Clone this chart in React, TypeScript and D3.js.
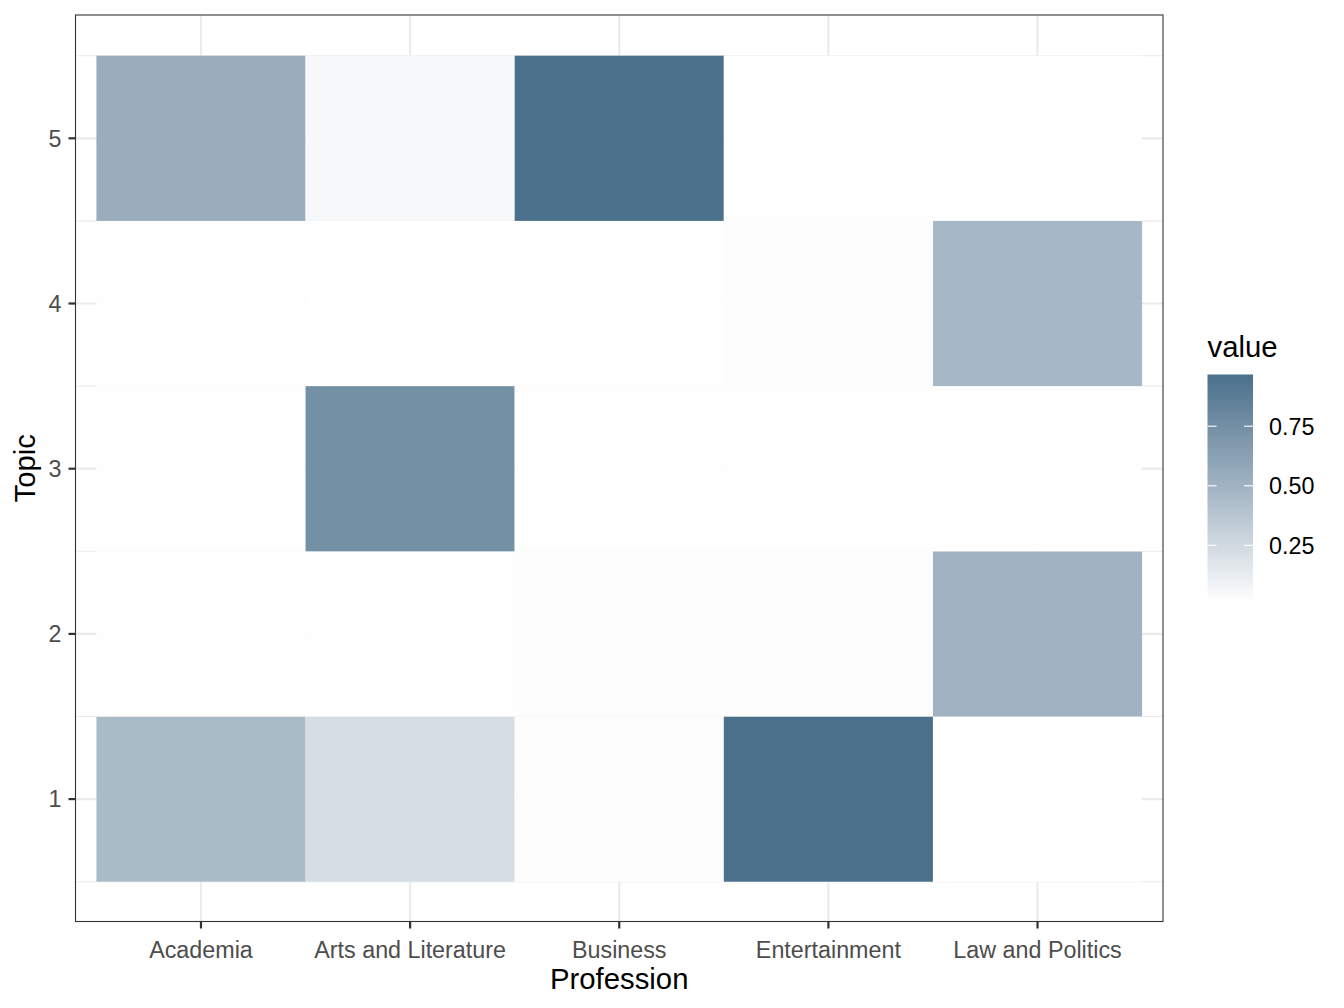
import React from "react";
import * as d3 from "d3";

const professions = ["Academia", "Arts and Literature", "Business", "Entertainment", "Law and Politics"];
const topics = [1, 2, 3, 4, 5];
// values per profession, indexed by topic 1..5
const academia = [0.45, 0.015, 0.012, 0.014, 0.54];
const artsLit = [0.22, 0.015, 0.74, 0.008, 0.05];
const business = [0.02, 0.02, 0.015, 0.015, 0.967];
const entertainment = [0.967, 0.02, 0.015, 0.02, 0.015];
const lawPolitics = [0.01, 0.5, 0.009, 0.47, 0.015];
const seriesValues = [academia, artsLit, business, entertainment, lawPolitics];
const legendTicks = [0.25, 0.5, 0.75];
const legendTickLabels = ["0.25", "0.50", "0.75"];

const W = 1344, H = 1008;
const panel = { left: 75.5, top: 15, right: 1163, bottom: 921.5 };
const FONT = "'Liberation Sans', Arial, sans-serif";
const TICK_FS = 23.3;
const TITLE_FS = 29.3;

export default function App() {
  const x = d3.scaleLinear().domain([0.4, 5.6]).range([panel.left, panel.right]);
  const y = d3.scaleLinear().domain([0.5, 5.5]).range([881.7, 55.7]);
  const all = seriesValues.flat();
  const vmin = d3.min(all)!, vmax = d3.max(all)!;
  const interp = d3.interpolateLab("#FFFFFF", "#4A708B");
  const color = (v: number) => interp((v - vmin) / (vmax - vmin));

  const cells: { i: number; t: number; v: number }[] = [];
  seriesValues.forEach((arr, i) => arr.forEach((v, j) => cells.push({ i, t: topics[j], v })));

  const lg = { x: 1207.5, w: 45.5, top: 374.5, bottom: 603 };
  const ly = d3.scaleLinear().domain([vmin, vmax]).range([lg.bottom, lg.top]);
  const stops = d3.range(0, 21).map((k) => k / 20);

  const minorY = [0.5, 1.5, 2.5, 3.5, 4.5, 5.5];

  return (
    <svg width={W} height={H} style={{ display: "block", margin: "-8px" }}>
      <rect width={W} height={H} fill="#fff" />
      <defs>
        <linearGradient id="lg" x1="0" y1="1" x2="0" y2="0">
          {stops.map((s) => (
            <stop key={s} offset={s} stopColor={interp(s)} />
          ))}
        </linearGradient>
        <clipPath id="pc">
          <rect x={panel.left} y={panel.top} width={panel.right - panel.left} height={panel.bottom - panel.top} />
        </clipPath>
      </defs>
      <g clipPath="url(#pc)">
        {minorY.map((t) => (
          <line key={"my" + t} x1={panel.left} x2={panel.right} y1={y(t)} y2={y(t)} stroke="#ebebeb" strokeWidth={1.1} />
        ))}
        {topics.map((t) => (
          <line key={"gy" + t} x1={panel.left} x2={panel.right} y1={y(t)} y2={y(t)} stroke="#ebebeb" strokeWidth={2.2} />
        ))}
        {professions.map((p, i) => (
          <line key={"gx" + p} y1={panel.top} y2={panel.bottom} x1={x(i + 1)} x2={x(i + 1)} stroke="#ebebeb" strokeWidth={2.2} />
        ))}
        {cells.map((c) => (
          <rect
            key={c.i + "-" + c.t}
            x={x(c.i + 0.5)}
            y={y(c.t + 0.5)}
            width={x(c.i + 1.5) - x(c.i + 0.5)}
            height={y(c.t - 0.5) - y(c.t + 0.5)}
            fill={color(c.v)}
          />
        ))}
      </g>
      <rect x={panel.left} y={panel.top} width={panel.right - panel.left} height={panel.bottom - panel.top} fill="none" stroke="#333333" strokeWidth={1.1} />
      {/* y axis */}
      {topics.map((t) => (
        <g key={"yt" + t}>
          <line x1={panel.left - 7} x2={panel.left} y1={y(t)} y2={y(t)} stroke="#333333" strokeWidth={2.2} />
          <text x={61.5} y={y(t)} dy="0.36em" textAnchor="end" fontFamily={FONT} fontSize={TICK_FS} fill="#4d4d4d">
            {t}
          </text>
        </g>
      ))}
      {/* x axis */}
      {professions.map((p, i) => (
        <g key={"xt" + p}>
          <line y1={panel.bottom} y2={panel.bottom + 7} x1={x(i + 1)} x2={x(i + 1)} stroke="#333333" strokeWidth={2.2} />
          <text x={x(i + 1)} y={957.5} textAnchor="middle" fontFamily={FONT} fontSize={TICK_FS} fill="#4d4d4d">
            {p}
          </text>
        </g>
      ))}
      <text x={(panel.left + panel.right) / 2} y={989} textAnchor="middle" fontFamily={FONT} fontSize={TITLE_FS} fill="#000">
        Profession
      </text>
      <text transform={`translate(35,${(panel.top + panel.bottom) / 2}) rotate(-90)`} textAnchor="middle" fontFamily={FONT} fontSize={TITLE_FS} fill="#000">
        Topic
      </text>
      {/* legend */}
      <text x={lg.x} y={357} fontFamily={FONT} fontSize={TITLE_FS} fill="#000">
        value
      </text>
      <rect x={lg.x} y={lg.top} width={lg.w} height={lg.bottom - lg.top} fill="url(#lg)" />
      {legendTicks.map((t, k) => (
        <g key={"lt" + t}>
          <line x1={lg.x} x2={lg.x + 9} y1={ly(t)} y2={ly(t)} stroke="#fff" strokeWidth={1.1} />
          <line x1={lg.x + lg.w - 9} x2={lg.x + lg.w} y1={ly(t)} y2={ly(t)} stroke="#fff" strokeWidth={1.1} />
          <text x={1269} y={ly(t)} dy="0.36em" fontFamily={FONT} fontSize={TICK_FS} fill="#000">
            {legendTickLabels[k]}
          </text>
        </g>
      ))}
    </svg>
  );
}
